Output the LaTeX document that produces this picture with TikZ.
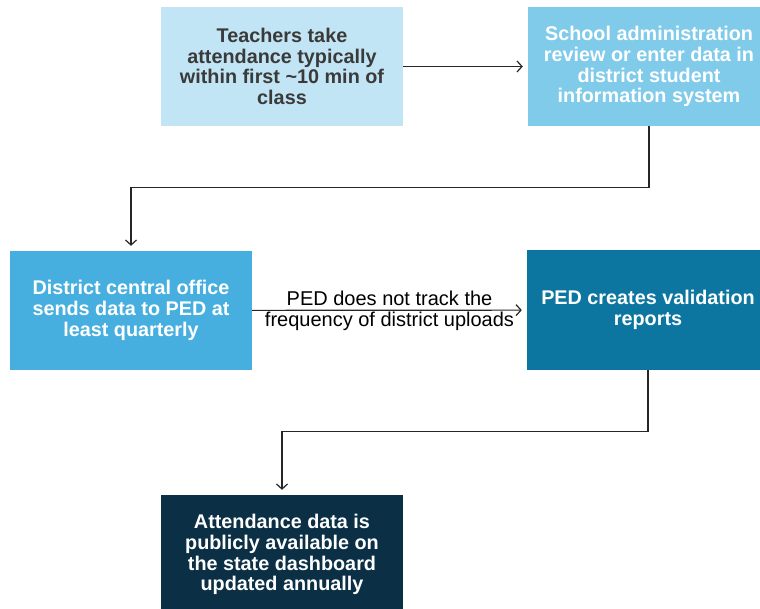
\documentclass[tikz,border=0pt]{standalone}
\usepackage{fontspec}
\setmainfont{Liberation Sans}
\usetikzlibrary{arrows.meta}

\definecolor{paleblue}{HTML}{C2E5F5}
\definecolor{skyblue}{HTML}{80CBEA}
\definecolor{midblue}{HTML}{46AFE0}
\definecolor{deepblue}{HTML}{0C76A0}
\definecolor{navy}{HTML}{0B2F45}
\definecolor{darktext}{HTML}{3A3A3A}

\begin{document}
\begin{tikzpicture}[x=1pt, y=-1pt]
  \tikzstyle{box}=[rectangle, minimum width=242pt, minimum height=119pt, inner sep=0pt,
    align=center, text=white, font=\fontsize{19.8}{20.8}\selectfont\bfseries]
  \tikzstyle{flow}=[draw=black!85, line width=1.2pt,
    -{Straight Barb[length=5pt, width=11pt]}, shorten >=5pt]
  \tikzstyle{note}=[font=\fontsize{20}{22}\selectfont, text=black]

  \useasboundingbox (0,0) rectangle (760,609);

  \node[box, fill=paleblue, text=darktext] (1) at (282, 66.5)
    {Teachers take\\attendance typically\\within first \textasciitilde10 min of\\class};
  \node[box, fill=skyblue]  (2) at (649, 66.5)
    {School administration\\review or enter data in\\district student\\information system};
  \node[box, fill=midblue]  (3) at (131, 310.5)
    {District central office\\sends data to PED at\\least quarterly};
  \node[box, fill=deepblue] (4) at (648, 310)
    {PED creates validation\\reports};
  \node[box, fill=navy]     (5) at (282, 554.5)
    {Attendance data is\\publicly available on\\the state dashboard\\updated annually};

  \draw[flow] (1) -- (2);
  \draw[flow] (2.south) -- ++(0,61) -| (3.north);
  \draw[flow] (3) -- (4)
    node[note, midway, above, inner sep=3.5pt] {PED does not track the}
    node[note, midway, below, inner sep=1.5pt] {frequency of district uploads};
  \draw[flow] (4.south) -- ++(0,62) -| (5.north);
\end{tikzpicture}
\end{document}
